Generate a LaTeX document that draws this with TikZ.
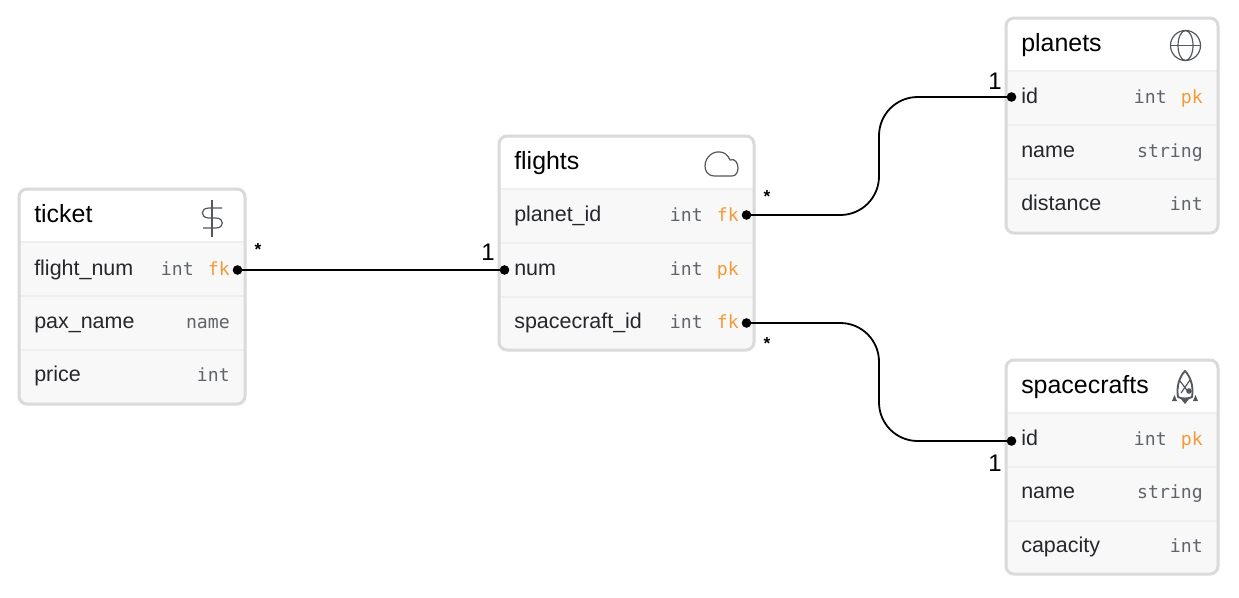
\documentclass[tikz,border=0pt]{standalone}
\usepackage{fontspec}
\setmainfont{Liberation Sans}
\newfontfamily\typefont{DejaVu Sans Mono}
\usetikzlibrary{calc}
\definecolor{edgegrey}{HTML}{DADADC}
\definecolor{bandgrey}{HTML}{F8F8F8}
\definecolor{sepgrey}{HTML}{EFEFF0}
\definecolor{fieldcol}{HTML}{25272D}
\definecolor{typecol}{HTML}{5F636B}
\definecolor{keycol}{HTML}{F29A38}
\definecolor{iconcol}{HTML}{54575E}
\tikzset{
  x=0.75pt,y=-0.75pt,
  titletext/.style={anchor=base west,inner sep=0pt,font=\fontsize{18.7pt}{20pt}\selectfont,text=black},
  fieldtext/.style={anchor=base west,inner sep=0pt,font=\fontsize{16.1pt}{18pt}\selectfont,text=fieldcol},
  typetext/.style={anchor=base east,inner sep=0pt,font=\typefont\fontsize{13.6pt}{16pt}\selectfont,text=typecol},
  keytext/.style={anchor=base east,inner sep=0pt,font=\typefont\fontsize{13.6pt}{16pt}\selectfont,text=keycol},
  tablebox/.style={draw=edgegrey,line width=2.25pt,rounded corners=6pt},
  sepline/.style={draw=sepgrey,line width=0.9pt},
  joint/.style={circle,fill=black,inner sep=0pt,minimum size=7.2pt},
  relation/.style={draw=black,line width=1.35pt},
  curved relation/.style={relation,rounded corners=29pt},
  manylabel/.style={inner sep=0pt,font=\bfseries\fontsize{13pt}{14pt}\selectfont},
  onelabel/.style={inner sep=0pt,font=\fontsize{18pt}{20pt}\selectfont},
  iconline/.style={draw=iconcol,line width=0.9pt,line join=round},
}
% name, x0, x1, y0, y1, title
\newcommand{\dbtable}[6]{%
  \begin{scope}
    \clip[rounded corners=6pt] (#2,#4) rectangle (#3,#5);
    \fill[bandgrey] (#2,#4) rectangle (#3,#5);
    \fill[white] (#2,#4) rectangle (#3,#4+53);
    \draw[sepline] (#2,#4+53) -- (#3,#4+53);
    \draw[sepline] (#2,#4+107) -- (#3,#4+107);
    \draw[sepline] (#2,#4+161) -- (#3,#4+161);
  \end{scope}
  \path[tablebox] (#2,#4) rectangle (#3,#5);
  \node[titletext] (#1-title) at (#2+15,#4+33) {#6};
}
% prefix, x0, x1, baseline y, field, type, key
\newcommand{\keyrow}[7]{%
  \node[fieldtext] (#1-field) at (#2+15,#4) {#5};
  \node[typetext] (#1-type) at (#3-51,#4) {#6};
  \node[keytext] (#1-key) at (#3-15,#4) {#7};
}
\newcommand{\plainrow}[6]{%
  \node[fieldtext] (#1-field) at (#2+15,#4) {#5};
  \node[typetext] (#1-type) at (#3-15,#4) {#6};
}
\begin{document}
\begin{tikzpicture}
\path[use as bounding box,fill=white] (0,0) rectangle (1239,597);

\dbtable{ticket}{19}{245}{189}{404}{ticket}
\keyrow{t1}{19}{245}{275}{flight\_num}{int}{fk}
\plainrow{t2}{19}{245}{328}{pax\_name}{name}
\plainrow{t3}{19}{245}{381}{price}{int}

\dbtable{flights}{499}{754}{136}{350}{flights}
\keyrow{f1}{499}{754}{221}{planet\_id}{int}{fk}
\keyrow{f2}{499}{754}{275}{num}{int}{pk}
\keyrow{f3}{499}{754}{328}{spacecraft\_id}{int}{fk}

\dbtable{planets}{1006}{1218}{18}{233}{planets}
\keyrow{p1}{1006}{1218}{103}{id}{int}{pk}
\plainrow{p2}{1006}{1218}{157}{name}{string}
\plainrow{p3}{1006}{1218}{210}{distance}{int}

\dbtable{spacecrafts}{1006}{1218}{360}{574}{spacecrafts}
\keyrow{s1}{1006}{1218}{445}{id}{int}{pk}
\plainrow{s2}{1006}{1218}{498.6}{name}{string}
\plainrow{s3}{1006}{1218}{552}{capacity}{int}

% icons
\begin{scope}[shift={(1185.5,45.5)}]
  \draw[iconline] (0,0) circle (15);
  \draw[iconline] (0,0) ellipse (7.5 and 15);
  \draw[iconline] (-15,0) -- (15,0);
\end{scope}
\draw[iconline] (715,176) .. controls (707,176) and (705,170) .. (705,166)
  .. controls (705,157) and (713,151) .. (720,152)
  .. controls (724,152) and (728,155) .. (730,160)
  .. controls (735,158) and (738,163) .. (738,168)
  .. controls (738,172) and (736,176) .. (732,176) -- cycle;
\begin{scope}[shift={(212,218)}]
  \draw[iconline] (0,-18) -- (0,19);
  \draw[iconline] (10,-10) -- (-3,-10)
     .. controls (-12,-10) and (-12,0) .. (-3,0)
     -- (4,0) .. controls (12.5,0) and (12.5,10) .. (4,10)
     -- (-9,10);
\end{scope}
\begin{scope}[shift={(1185,386)}]
  \draw[iconline,line width=1.4pt] (-7,11) .. controls (-9,0) and (-5,-10) .. (0,-15)
     .. controls (5,-10) and (9,0) .. (7,11) .. controls (3,13) and (-3,13) .. (-7,11) -- cycle;
  \draw[iconline] (-4,7) -- (5,-6) (-5,-5) -- (4,7);
  \fill[iconcol] (4,5) circle (2.8);
  \fill[iconcol] (-13,15) -- (-10.5,9) -- (-8,15) -- cycle;
  \fill[iconcol] (13,15) -- (10.5,9) -- (8,15) -- cycle;
  \fill[iconcol] (-4,13) -- (4,13) -- (0,18) -- cycle;
\end{scope}

% joints
\node[joint] (jt) at (237.5,270) {};
\node[joint] (jfn) at (504.5,270) {};
\node[joint] (jfp) at (746.5,215) {};
\node[joint] (jfs) at (746.5,323) {};
\node[joint] (jp) at (1011.5,97) {};
\node[joint] (js) at (1011.5,441) {};

% bends
\coordinate (midx) at (879,0);
\coordinate (b1) at (midx |- jfp.center);
\coordinate (b2) at (midx |- jp.center);
\coordinate (b3) at (midx |- jfs.center);
\coordinate (b4) at (midx |- js.center);

% relations
\draw[relation] (jt.center) -- (jfn.center);
\draw[curved relation] (jfp.center) -- (b1) -- (b2) -- (jp.center);
\draw[curved relation] (jfs.center) -- (b3) -- (b4) -- (js.center);

% cardinalities
\node[manylabel] (c1) at (258,250) {*};
\node[onelabel] (c2) at (488,252) {1};
\node[manylabel] (c3) at (767,197) {*};
\node[onelabel] (c4) at (995,81) {1};
\node[manylabel] (c5) at (767,344) {*};
\node[onelabel] (c6) at (995,463) {1};
\end{tikzpicture}
\end{document}
